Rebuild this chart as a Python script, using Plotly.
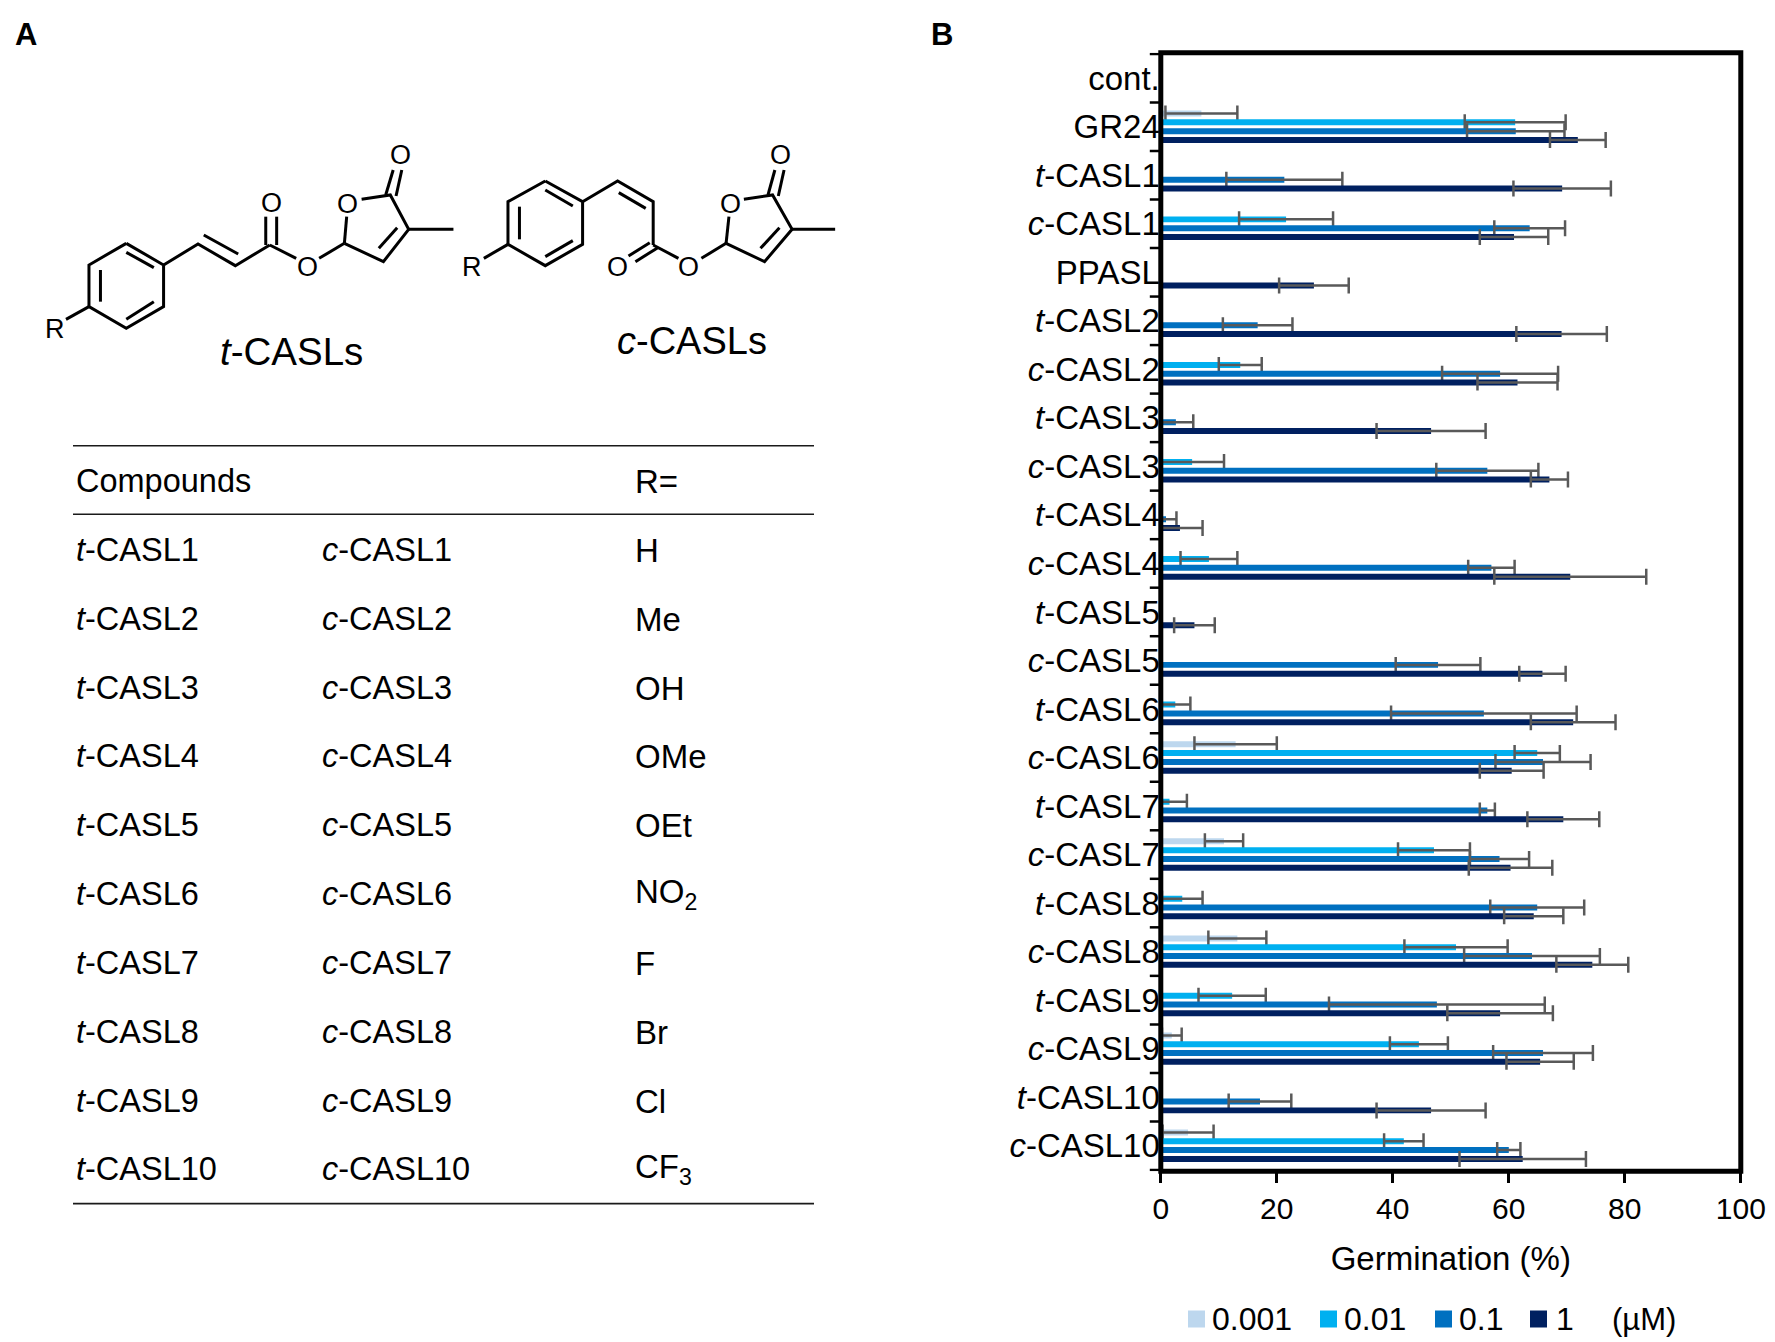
#Germination of the CASL compounds, with the structures and the R= table on the left
import plotly.graph_objects as go

FONT = "Liberation Sans"
W = 1775
H = 1342

"""$$$$$$$$$$$$$$$ BAR DATA $$$$$$$$$$$$$$$$"""
compounds = [
    "cont.", "GR24", "<i>t</i>-CASL1", "<i>c</i>-CASL1", "PPASL",
    "<i>t</i>-CASL2", "<i>c</i>-CASL2", "<i>t</i>-CASL3", "<i>c</i>-CASL3",
    "<i>t</i>-CASL4", "<i>c</i>-CASL4", "<i>t</i>-CASL5", "<i>c</i>-CASL5",
    "<i>t</i>-CASL6", "<i>c</i>-CASL6", "<i>t</i>-CASL7", "<i>c</i>-CASL7",
    "<i>t</i>-CASL8", "<i>c</i>-CASL8", "<i>t</i>-CASL9", "<i>c</i>-CASL9",
    "<i>t</i>-CASL10", "<i>c</i>-CASL10",
]
dose_names = ["0.001", "0.01", "0.1", "1"]
dose_colors = ["#BDD7EE", "#00B0F0", "#0070C0", "#002060"]

germ_0001 = [None, 7.0, None, None, None, None, None, None, None, None, None, None,
             None, None, 12.9, None, 10.9, None, 13.2, None, 1.9, None, 4.7]
germ_001 = [None, 61.1, None, 21.6, None, None, 13.7, None, 5.4, None, 8.3, None,
            None, 2.5, 64.9, 1.5, 47.1, 3.7, 50.9, 12.3, 44.5, None, 41.9]
germ_01 = [None, 61.2, 21.3, 63.6, None, 16.7, 58.5, 2.6, 56.3, 0.9, 57.0, None,
           47.8, 55.7, 65.9, 56.3, 58.4, 64.9, 64.0, 47.6, 65.9, 17.1, 60.0]
germ_1 = [None, 71.9, 69.2, 60.9, 26.4, 69.1, 61.5, 46.6, 67.0, 3.3, 70.6, 5.8,
          65.8, 71.1, 60.5, 69.4, 60.3, 64.3, 74.4, 58.5, 65.4, 46.6, 62.4]

err_0001 = [None, 6.2, None, None, None, None, None, None, None, None, None, None,
            None, None, 7.1, None, 3.3, None, 5.0, None, 1.7, None, 4.4]
err_001 = [None, 8.7, None, 8.1, None, None, 3.7, None, 5.5, None, 4.9, None,
           None, 2.6, 3.9, 3.0, 6.2, 3.5, 8.9, 5.8, 5.0, None, 3.4]
err_01 = [None, 8.4, 10.0, 6.1, None, 6.0, 10.0, 3.0, 8.8, 1.8, 4.0, None,
          7.3, 16.0, 8.2, 1.3, 5.1, 8.1, 11.7, 18.6, 8.6, 5.4, 2.0]
err_1 = [None, 4.8, 8.4, 5.9, 6.0, 7.8, 6.9, 9.4, 3.2, 3.9, 13.1, 3.5,
         4.0, 7.3, 5.5, 6.2, 7.2, 5.1, 6.2, 9.1, 5.8, 9.4, 10.9]

germ_all = [germ_0001, germ_001, germ_01, germ_1]
err_all = [err_0001, err_001, err_01, err_1]

"""$$$$$$$$$$$$$$$ TABLE DATA $$$$$$$$$$$$$$$$"""
table_t = ["<i>t</i>-CASL%d" % i for i in range(1, 11)]
table_c = ["<i>c</i>-CASL%d" % i for i in range(1, 11)]
table_r = ["H", "Me", "OH", "OMe", "OEt", "NO<sub>2</sub>", "F", "Br", "Cl", "CF<sub>3</sub>"]
row_y = [550, 619, 688, 756, 825, 894, 963, 1032, 1101, 1169]

"""$$$$$$$$$$$$$$$ STRUCTURES $$$$$$$$$$$$$$$$"""
# Bonds as polylines, read in a crop where x is scaled by 1568/900 and y by 3
t_bonds = [
    [(220,730),(285,795),(285,920),(220,985),(155,920),(155,795),(220,730)],
    [(175,810),(175,905)], [(220,757),(268,803)], [(220,958),(268,905)],
    [(155,920),(115,958)],
    [(285,795),(345,732),(410,797),(470,735)], [(355,705),(415,762)],
    [(463,735),(463,650)], [(482,735),(482,650)],
    [(470,735),(516,775)], [(556,775),(600,730)],
    [(600,730),(604,650)], [(630,598),(680,585),(712,688),(668,785),(600,730)],
    [(660,745),(692,683)], [(672,585),(685,510)], [(690,588),(700,510)],
    [(712,688),(790,688)],
]
c_bonds = [
    [(950,543),(1015,605),(1015,733),(950,797),(885,733),(885,605),(950,543)],
    [(905,620),(905,718)], [(950,570),(998,618)], [(950,770),(998,722)],
    [(885,733),(843,775)],
    [(1015,605),(1076,543),(1138,605),(1138,735)], [(1078,578),(1125,625)],
    [(1132,728),(1095,768)], [(1146,743),(1107,785)],
    [(1138,735),(1182,775)], [(1222,775),(1265,730)],
    [(1265,730),(1270,650)], [(1296,598),(1346,585),(1380,688),(1332,785),(1265,730)],
    [(1325,745),(1358,683)], [(1338,585),(1350,510)], [(1356,588),(1366,510)],
    [(1380,688),(1455,688)],
]
atom_labels = [
    ("R",95,988), ("O",473,610), ("O",536,800), ("O",606,612), ("O",697,465),
    ("R",823,800), ("O",1075,800), ("O",1200,800), ("O",1272,612), ("O",1360,465),
]
crop_sx = 900 / 1568
crop_sy = 1 / 3

bond_x = []
bond_y = []
for line in t_bonds + c_bonds:
    for px, py in line:
        bond_x.append(px * crop_sx)
        bond_y.append(py * crop_sy)
    bond_x.append(None)
    bond_y.append(None)

"""%%%%%%%%%%%%%%%%%%%%%%%%%%%%%%%%%%%%%%%
                CREATE PLOT
%%%%%%%%%%%%%%%%%%%%%%%%%%%%%%%%%%%%%%%"""
fig = go.Figure()

for i in range(4):
    fig.add_trace(go.Bar(
        y=compounds, x=germ_all[i],
        name=dose_names[i],
        orientation="h",
        marker=dict(color=dose_colors[i], line=dict(width=0)),
        error_x=dict(type="data", array=err_all[i], symmetric=True,
                     color="#595959", thickness=2.5, width=8)))

fig.add_trace(go.Scatter(
    x=bond_x, y=bond_y, xaxis="x2", yaxis="y2", mode="lines",
    line=dict(color="black", width=3), hoverinfo="skip", showlegend=False))

"""$$$$$$$$$$$$$$$ FORMATTING $$$$$$$$$$$$$$$$"""
plot_left = 1160.8
plot_right = 1740.8
plot_top = 52.7
plot_bottom = 1171.2

fig.update_layout(
    width=W, height=H,
    margin=dict(l=0, r=0, t=0, b=0),
    paper_bgcolor="white", plot_bgcolor="rgba(0,0,0,0)",
    font=dict(family=FONT, color="black", size=30),
    barmode="group", bargap=0.274, bargroupgap=0.32,
    showlegend=False,
    xaxis=dict(
        domain=[plot_left / W, plot_right / W], automargin=False,
        range=[0, 100], tickvals=[0, 20, 40, 60, 80, 100],
        showgrid=False, zeroline=False, showline=False,
        ticks="outside", ticklen=11, tickwidth=2.5, tickcolor="black",
        tickfont=dict(size=30),
        title=dict(text="Germination (%)", font=dict(size=33), standoff=22)),
    yaxis=dict(
        domain=[1 - plot_bottom / H, 1 - plot_top / H], automargin=False,
        type="category", categoryorder="array", categoryarray=compounds,
        autorange="reversed", tickson="boundaries",
        showgrid=False, zeroline=False, showline=False,
        # long white ticks hold the names off the axis, the short black ones are shapes below
        ticks="outside", ticklen=20, tickwidth=2.5, tickcolor="white",
        tickfont=dict(size=33)),
    # overlay in page pixels for panel A, panel letters and the key
    xaxis2=dict(domain=[0, 1], range=[0, W], visible=False, anchor="y2", automargin=False),
    yaxis2=dict(domain=[0, 1], range=[H, 0], visible=False, anchor="x2", automargin=False),
)

# visible y ticks between the categories
for i in range(len(compounds) + 1):
    fig.add_shape(type="line", xref="x domain", yref="y", x0=-11 / (plot_right - plot_left), x1=0,
                  y0=i - 0.5, y1=i - 0.5, line=dict(color="black", width=2.5))

# heavy frame round the bars, centred on the axis ends
fig.add_shape(type="rect", xref="x domain", yref="y domain", x0=0, x1=1, y0=0, y1=1,
              line=dict(color="black", width=5))

def label(text, x, y, size=32.5, anchor="left", bold=False):
    fig.add_annotation(
        text="<b>%s</b>" % text if bold else text,
        x=x, y=y, xref="x2", yref="y2",
        xanchor=anchor, yanchor="middle", showarrow=False,
        font=dict(family=FONT, size=size, color="black"))

label("A", 26, 34, size=31, anchor="center", bold=True)
label("B", 942, 34, size=31, anchor="center", bold=True)

for name, ax, ay in atom_labels:
    label(name, ax * crop_sx, ay * crop_sy, size=27, anchor="center")
label("<i>t</i>-CASLs", 291, 351, size=38.5, anchor="center")
label("<i>c</i>-CASLs", 692, 341, size=38, anchor="center")

# table rules and text
for rule_y in [445.7, 514.3, 1203.6]:
    fig.add_shape(type="line", xref="x2", yref="y2", x0=73, x1=814, y0=rule_y, y1=rule_y,
                  line=dict(color="#1a1a1a", width=1.6))
label("Compounds", 74, 481)
label("R=", 633, 481, size=33)
for i in range(len(row_y)):
    label(table_t[i], 74, row_y[i])
    label(table_c[i], 320, row_y[i])
    label(table_r[i], 633, row_y[i], size=33)

# key below the bars
key_swatch_x = [1188, 1320, 1435, 1530]
key_text_x = [1210, 1342, 1457, 1554]
key_y = 1319
for i in range(4):
    fig.add_shape(type="rect", xref="x2", yref="y2",
                  x0=key_swatch_x[i], x1=key_swatch_x[i] + 17,
                  y0=key_y - 8.5, y1=key_y + 8.5,
                  fillcolor=dose_colors[i], line=dict(width=0))
    label(dose_names[i], key_text_x[i], key_y, size=32)
label("(\u00b5M)", 1610, key_y, size=31)

fig.write_html("out.html", config=dict(displayModeBar=False),
               post_script="document.body.style.margin='0';")
